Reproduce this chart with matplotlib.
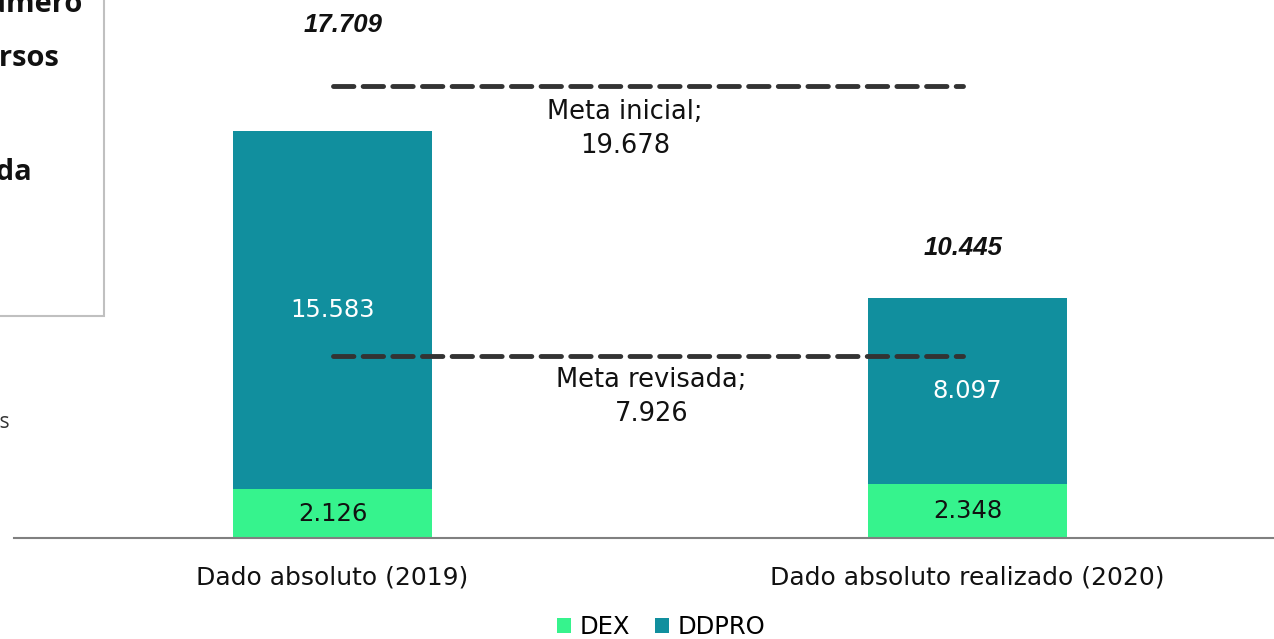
import matplotlib.pyplot as plt
from matplotlib.patches import Rectangle

# data
categories = ['Dado absoluto (2019)', 'Dado absoluto realizado (2020)']
dex = [2.126, 2.348]
ddpro = [15.583, 8.097]
totals = [17.709, 10.445]
meta_inicial = 19.678
meta_revisada = 7.926

c_dex = '#36F38D'
c_ddpro = '#118F9E'

W, H = 1274, 639
fig = plt.figure(figsize=(W/100, H/100), dpi=100)
ax = fig.add_axes([14/W, (H-538)/H, 1260/W, 538/H])

x = [0, 1]
width = 199/635
ax.bar(x, dex, width, color=c_dex, label='DEX')
ax.bar(x, ddpro, width, bottom=dex, color=c_ddpro, label='DDPRO')

ax.set_xlim((14-332.5)/635, (1274-332.5)/635)
ax.set_ylim(0, 538/22.98)

num_font = dict(family='DejaVu Sans', fontsize=17.5)
for xi, v in zip(x, dex):
    ax.text(xi, v/2, f'{v:.3f}', ha='center', va='center', color='#111111', **num_font)
for xi, b, v in zip(x, dex, ddpro):
    ax.text(xi, b + v/2, f'{v:.3f}', ha='center', va='center', color='white', **num_font)

# totals
tot_y = [(538-25)/22.98, (538-248)/22.98]
tot_x = [0.016, -0.007]
for xi, dx, ty, v in zip(x, tot_x, tot_y, totals):
    ax.text(xi + dx, ty, f'{v:.3f}', ha='center', va='center', family='Liberation Sans',
            fontsize=18.5, fontweight='bold', style='italic', color='#111111')

# meta lines
xe = [0, 1 - 5/635]
for m in (meta_inicial, meta_revisada):
    ax.plot(xe, [m, m], color='#333333', lw=3.5, ls=(0, (4.2, 1.9)),
            dash_capstyle='round', solid_capstyle='round')
meta_font = dict(family='DejaVu Sans', fontsize=18.5)
ax.text(0.461, meta_inicial - 1.86, 'Meta inicial;\n19.678', ha='center', va='center',
        linespacing=1.4, color='#111111', **meta_font)
ax.text(0.502, meta_revisada - 1.77, 'Meta revisada;\n7.926', ha='center', va='center',
        linespacing=1.4, color='#111111', **meta_font)

for s in ('top', 'right', 'left'):
    ax.spines[s].set_visible(False)
ax.spines['bottom'].set_color('#808080')
ax.spines['bottom'].set_linewidth(1.5)
ax.set_yticks([])
ax.set_xticks(x)
ax.set_xticklabels(categories, fontsize=18, family='DejaVu Sans', color='#111111')
ax.tick_params(axis='x', length=0, pad=20)

leg = fig.legend(loc='center', bbox_to_anchor=(661/W, 1 - 627/H), ncol=2, frameon=False,
                 prop={'family': 'DejaVu Sans', 'size': 17.5}, handlelength=0.6,
                 handleheight=0.6, handletextpad=0.35, columnspacing=1.0)

# cropped text box on the left
fig.patches.append(Rectangle((-0.2, (H-316)/H), 104/W + 0.2, 0.5, transform=fig.transFigure,
                             fill=False, edgecolor='#c0c0c0', lw=1.5))
box_font = dict(family='Open Sans', fontsize=21, fontweight='bold', color='#111111')
fig.text(83/W, 1 - 5/H, 'Número', ha='right', va='center', **box_font)
fig.text(60/W, 1 - 58/H, 'recursos', ha='right', va='center', **box_font)
fig.text(33/W, 1 - 172/H, 'revisada', ha='right', va='center', **box_font)
fig.text(11/W, 1 - 423/H, 'dados', ha='right', va='center', family='Open Sans',
         fontsize=15, color='#333333')

fig.savefig('out.png', dpi=100)
